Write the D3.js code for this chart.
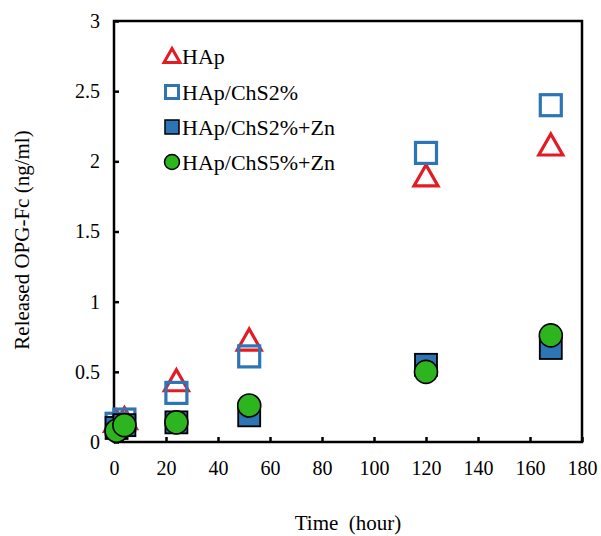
<!DOCTYPE html>
<html><head><meta charset="utf-8">
<script src="https://cdn.jsdelivr.net/npm/d3@7"></script>
<style>html,body{margin:0;padding:0;background:#fff;} svg text{font-family:"Liberation Serif","Times New Roman",serif !important;fill:#000;}</style>
</head><body><svg id="c" width="601" height="536"></svg>
<script>
const seriesNames = ["HAp", "HAp/ChS2%", "HAp/ChS2%+Zn", "HAp/ChS5%+Zn"];
const times = [1, 4, 24, 52, 120, 168];
const hap = [0.15, 0.17, 0.44, 0.73, 1.90, 2.12];
const hapChs2 = [0.13, 0.16, 0.35, 0.61, 2.06, 2.40];
const hapChs2Zn = [0.10, 0.12, 0.14, 0.19, 0.55, 0.67];
const hapChs5Zn = [0.08, 0.12, 0.14, 0.26, 0.50, 0.76];
const xTicks = [0, 20, 40, 60, 80, 100, 120, 140, 160, 180];
const yTicks = [0, 0.5, 1, 1.5, 2, 2.5, 3];

const SERIF = '"Liberation Serif", "Times New Roman", serif';
const svg = d3.select("#c");
const x = d3.scaleLinear().domain([0, 180]).range([114, 582]);
const y = d3.scaleLinear().domain([0, 3]).range([442, 21]);

const RED = "#E31B23", BLUE = "#2E75B6", GREEN = "#2DB51F";

// frame
svg.append("rect").attr("x", x(0)).attr("y", y(3)).attr("width", x(180) - x(0)).attr("height", y(0) - y(3))
  .attr("fill", "none").attr("stroke", "#000").attr("stroke-width", 2.5);

// axes with inward ticks
const xAxis = d3.axisBottom(x).tickValues(xTicks).tickSize(-5).tickPadding(19).tickFormat(d3.format("d"));
const gx = svg.append("g").attr("transform", `translate(0,${y(0)})`).call(xAxis);
gx.attr("font-family", null);
gx.select(".domain").remove();
gx.selectAll("line").attr("stroke", "#000").attr("stroke-width", 2.5);
gx.selectAll("text").style("font-family", SERIF).style("font-size", "20px");

const yAxis = d3.axisLeft(y).tickValues(yTicks).tickSize(-5).tickPadding(14).tickFormat(d => String(d));
const gy = svg.append("g").attr("transform", `translate(${x(0)},0)`).call(yAxis);
gy.attr("font-family", null);
gy.select(".domain").remove();
gy.selectAll("line").attr("stroke", "#000").attr("stroke-width", 2.5);
gy.selectAll("text").style("font-family", SERIF).style("font-size", "20px");

// titles
svg.append("text").attr("x", 348).attr("y", 530).attr("text-anchor", "middle")
  .style("font-family", SERIF).style("font-size", "21px")
  .attr("xml:space", "preserve").text("Time  (hour)");
svg.append("text").attr("transform", "translate(29,240) rotate(-90)").attr("text-anchor", "middle")
  .style("font-family", SERIF).style("font-size", "21px")
  .text("Released OPG-Fc (ng/ml)");

// marker drawers
function tri(g, cx, cy) {
  const w = 24, h = 21;
  g.append("path").attr("d", `M${cx},${cy - h / 2}L${cx + w / 2},${cy + h / 2}L${cx - w / 2},${cy + h / 2}Z`)
    .attr("fill", "none").attr("stroke", RED).attr("stroke-width", 3.2).attr("stroke-linejoin", "miter");
}
function sqOpen(g, cx, cy) {
  const s = 21;
  g.append("rect").attr("x", cx - s / 2).attr("y", cy - s / 2).attr("width", s).attr("height", s)
    .attr("fill", "none").attr("stroke", BLUE).attr("stroke-width", 3.2);
}
function sqFill(g, cx, cy) {
  const s = 22;
  g.append("rect").attr("x", cx - s / 2).attr("y", cy - s / 2).attr("width", s).attr("height", s)
    .attr("fill", BLUE).attr("stroke", "#000").attr("stroke-width", 1.8);
}
function circ(g, cx, cy) {
  g.append("circle").attr("cx", cx).attr("cy", cy).attr("r", 11.5)
    .attr("fill", GREEN).attr("stroke", "#000").attr("stroke-width", 1.6);
}

const plot = svg.append("g");
const series = [
  { vals: hap, draw: tri },
  { vals: hapChs2, draw: sqOpen },
  { vals: hapChs2Zn, draw: sqFill },
  { vals: hapChs5Zn, draw: circ }
];
series.forEach(s => {
  times.forEach((t, i) => s.draw(plot, x(t), y(s.vals[i])));
});

// legend
const lg = svg.append("g");
const legY = [56, 92, 127, 162];
series.forEach((s, i) => {
  const cy = legY[i];
  const cx = 172;
  if (i === 0) {
    lg.append("path").attr("d", `M${cx},${cy - 7.5}L${cx + 8},${cy + 6.5}L${cx - 8},${cy + 6.5}Z`)
      .attr("fill", "none").attr("stroke", RED).attr("stroke-width", 3);
  } else if (i === 1) {
    lg.append("rect").attr("x", cx - 6.5).attr("y", cy - 6.5).attr("width", 13).attr("height", 13)
      .attr("fill", "none").attr("stroke", BLUE).attr("stroke-width", 3);
  } else if (i === 2) {
    lg.append("rect").attr("x", cx - 7).attr("y", cy - 7).attr("width", 14).attr("height", 14)
      .attr("fill", BLUE).attr("stroke", "#000").attr("stroke-width", 1.5);
  } else {
    lg.append("circle").attr("cx", cx).attr("cy", cy).attr("r", 7.5)
      .attr("fill", GREEN).attr("stroke", "#000").attr("stroke-width", 1.5);
  }
  lg.append("text").attr("x", 182).attr("y", cy + 7.5)
    .style("font-family", SERIF).style("font-size", "22px").text(seriesNames[i]);
});
</script></body></html>
